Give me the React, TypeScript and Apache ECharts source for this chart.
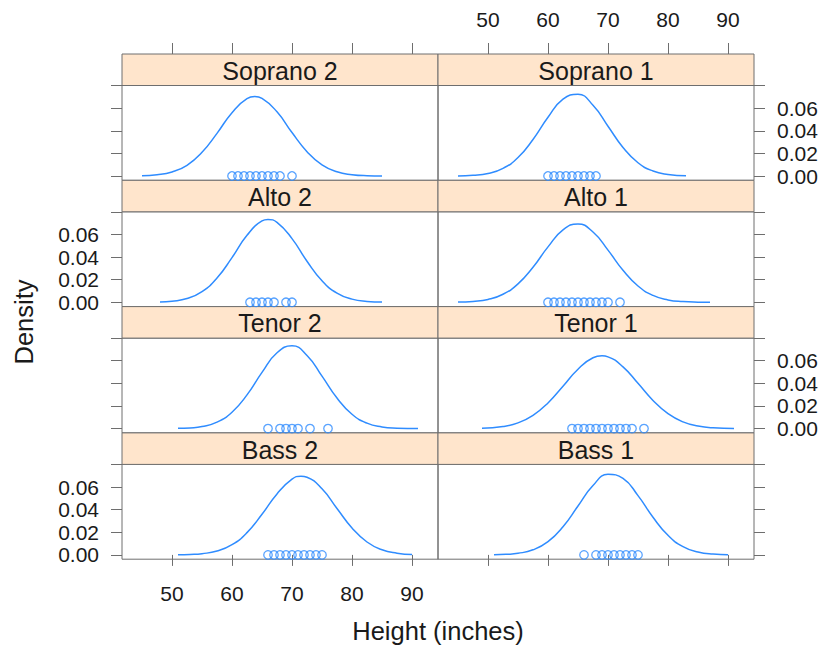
import React, { useEffect, useRef } from "react";
import * as echarts from "echarts";

// ---- Data ----
const panelNames = ["Soprano 2", "Soprano 1", "Alto 2", "Alto 1", "Tenor 2", "Tenor 1", "Bass 2", "Bass 1"];
const xTicks = [50, 60, 70, 80, 90];
const yTicks = [0, 0.02, 0.04, 0.06, 0.08];
const yLabelTicks = [0, 0.02, 0.04, 0.06];

// observed heights (distinct values shown as points)
const soprano2Heights = [60, 61, 62, 63, 64, 65, 66, 67, 68, 70];
const soprano1Heights = [60, 61, 62, 63, 64, 65, 66, 67, 68];
const alto2Heights = [63, 64, 65, 66, 67, 69, 70];
const alto1Heights = [60, 61, 62, 63, 64, 65, 66, 67, 68, 69, 70, 72];
const tenor2Heights = [66, 68, 69, 70, 71, 73, 76];
const tenor1Heights = [64, 65, 66, 67, 68, 69, 70, 71, 72, 73, 74, 76];
const bass2Heights = [66, 67, 68, 69, 70, 71, 72, 73, 74, 75];
const bass1Heights = [66, 68, 69, 70, 71, 72, 73, 74, 75];

// density curves: [height, density]
const soprano2Curve = [
  [45, 0.0003], [47.5, 0.0011], [50, 0.0036], [52.5, 0.0095], [55, 0.0209], [57.5, 0.0377],
  [60, 0.056], [62.5, 0.0684], [63.8, 0.0702], [65, 0.0686], [67.5, 0.0567], [70, 0.0384],
  [72.5, 0.0215], [75, 0.0098], [77.5, 0.0037], [80, 0.0012], [82.5, 0.0003], [85, 0.0001],
];
const soprano1Curve = [
  [45, 0.0001], [47.5, 0.0006], [50, 0.0022], [52.5, 0.0067], [55, 0.0163], [57.5, 0.0323],
  [60, 0.0519], [62.5, 0.0679], [65, 0.0722], [67.5, 0.0625], [70, 0.044], [72.5, 0.0252],
  [75, 0.0117], [77.5, 0.0044], [80, 0.0014], [83, 0.0003],
];
const alto2Curve = [
  [48, 0.0003], [50, 0.001], [52.5, 0.0033], [55, 0.0094], [57.5, 0.0214], [60, 0.0395],
  [62.5, 0.0592], [65, 0.0719], [66, 0.0732], [67.5, 0.0707], [70, 0.0563], [72.5, 0.0363],
  [75, 0.019], [77.5, 0.0081], [80, 0.0028], [82.5, 0.0008], [85, 0.0002],
];
const alto1Curve = [
  [45, 0.0002], [47.5, 0.0008], [50, 0.0025], [52.5, 0.0071], [55, 0.0163], [57.5, 0.031],
  [60, 0.049], [62.5, 0.064], [65, 0.0693], [67.5, 0.0621], [70, 0.0461], [72.5, 0.0283],
  [75, 0.0144], [77.5, 0.0061], [80, 0.0021], [82.5, 0.0006], [85, 0.0001], [87, 0.0],
];
const tenor2Curve = [
  [51, 0.0002], [53, 0.0006], [55, 0.0018], [57.5, 0.0057], [60, 0.0145], [62.5, 0.0298],
  [65, 0.0497], [67.5, 0.067], [70, 0.0732], [72.5, 0.0647], [75, 0.0464], [77.5, 0.027],
  [80, 0.0127], [82.5, 0.0048], [85, 0.0015], [87.5, 0.0004], [91, 0.0],
];
const tenor1Curve = [
  [49, 0.0004], [52.5, 0.0019], [55, 0.0051], [57.5, 0.0117], [60, 0.0227], [62.5, 0.0375],
  [65, 0.0525], [67.5, 0.0626], [69, 0.0643], [70, 0.0634], [72.5, 0.0546], [75, 0.04],
  [77.5, 0.0249], [80, 0.0132], [82.5, 0.0059], [85, 0.0023], [87.5, 0.0007], [91, 0.0001],
];
const bass2Curve = [
  [51, 0.0001], [53, 0.0004], [55, 0.0011], [57.5, 0.0034], [60, 0.009], [62.5, 0.0197],
  [65, 0.0359], [67.5, 0.0539], [70, 0.0669], [71.5, 0.0696], [72.5, 0.0687], [75, 0.0584],
  [77.5, 0.041], [80, 0.0238], [82.5, 0.0114], [85, 0.0045], [87.5, 0.0015], [90, 0.0004],
];
const bass1Curve = [
  [51, 0.0001], [53, 0.0005], [55, 0.0014], [57.5, 0.0045], [60, 0.0117], [62.5, 0.0249],
  [65, 0.0432], [67.5, 0.0613], [70, 0.0712], [72.5, 0.0676], [75, 0.0524], [77.5, 0.0333],
  [80, 0.0173], [82.5, 0.0073], [85, 0.0025], [87.5, 0.0007], [90, 0.0002],
];

const panelHeights = [soprano2Heights, soprano1Heights, alto2Heights, alto1Heights, tenor2Heights, tenor1Heights, bass2Heights, bass1Heights];
const panelCurves = [soprano2Curve, soprano1Curve, alto2Curve, alto1Curve, tenor2Curve, tenor1Curve, bass2Curve, bass1Curve];

// ---- Layout / style ----
const FONT = "'Liberation Sans', Arial, Helvetica, sans-serif";
const LINE = "#6e6e6e";
const TEXT = "#1a1a1a";
const BLUE = "#2f8cff";
const LEFT0 = 122;
const COLW = 316;
const TOP0 = 54;
const ROWH = 126.3;
const STRIPH = 31.5;
const PANELH = 94.8;
const XMIN = 41.667;
const XMAX = 94.333;
const YMIN = -0.0038;
const YMAX = 0.08;

export default function App() {
  const ref = useRef<HTMLDivElement>(null);
  useEffect(() => {
    if (!ref.current) return;
    const chart = echarts.init(ref.current, undefined, { renderer: "svg" });
    const grids: any[] = [];
    const xAxes: any[] = [];
    const yAxes: any[] = [];
    const series: any[] = [];
    const graphics: any[] = [];
    panelNames.forEach((name, i) => {
      const r = Math.floor(i / 2);
      const c = i % 2;
      const left = LEFT0 + c * COLW;
      const stripTop = TOP0 + r * ROWH;
      grids.push({
        left, top: stripTop + STRIPH, width: COLW, height: PANELH,
        show: true, borderColor: LINE, borderWidth: 1, backgroundColor: "transparent",
      });
      xAxes.push({
        gridIndex: i, type: "value", min: XMIN, max: XMAX,
        show: r === 3,
        position: "bottom",
        axisLine: { show: false },
        splitLine: { show: false },
        axisTick: { show: true, length: 11, customValues: xTicks, lineStyle: { color: LINE, width: 1 } },
        axisLabel: {
          show: c === 0,
          customValues: xTicks, margin: 24, fontSize: 21, color: TEXT, fontFamily: FONT,
        },
      });
      yAxes.push({
        gridIndex: i, type: "value", min: YMIN, max: YMAX,
        position: c === 0 ? "left" : "right",
        axisLine: { show: false },
        splitLine: { show: false },
        axisTick: { show: true, length: 11, customValues: yTicks, lineStyle: { color: LINE, width: 1 } },
        axisLabel: {
          show: (c === 0 && (r === 1 || r === 3)) || (c === 1 && (r === 0 || r === 2)),
          customValues: yLabelTicks, margin: 23, fontSize: 21, color: TEXT, fontFamily: FONT,
          formatter: (v: number) => v.toFixed(2),
        },
      });
      series.push({
        type: "line", xAxisIndex: i, yAxisIndex: i, data: panelCurves[i],
        smooth: true, showSymbol: false, symbol: "none",
        lineStyle: { color: BLUE, width: 1.5 }, silent: true,
      });
      series.push({
        type: "scatter", xAxisIndex: i, yAxisIndex: i,
        data: panelHeights[i].map((h) => [h, 0]),
        symbol: "circle", symbolSize: 8.5,
        itemStyle: { color: "rgba(255,255,255,0)", borderColor: BLUE, borderWidth: 1.3 },
        silent: true,
      });
      graphics.push({
        type: "rect",
        shape: { x: left, y: stripTop, width: COLW, height: STRIPH },
        style: { fill: "#ffe5cc", stroke: LINE, lineWidth: 1 },
        silent: true,
      });
      graphics.push({
        type: "text",
        x: left + COLW / 2, y: stripTop + STRIPH / 2 + 1,
        style: { text: name, fontSize: 25, fontFamily: FONT, fill: TEXT, textAlign: "center", textVerticalAlign: "middle" },
        silent: true,
      });
    });
    // top axes: invisible grids ending at the top edge of the first strip row;
    // ticks and labels drawn inward (upward) from their bottom edge
    [0, 1].forEach((c) => {
      const gi = grids.length;
      grids.push({ left: LEFT0 + c * COLW, top: 0, width: COLW, height: TOP0, show: false });
      xAxes.push({
        gridIndex: gi, type: "value", min: XMIN, max: XMAX, position: "bottom",
        axisLine: { show: false },
        splitLine: { show: false },
        axisTick: { show: true, inside: true, length: 11, customValues: xTicks, lineStyle: { color: LINE, width: 1 } },
        axisLabel: {
          show: c === 1, inside: true,
          customValues: xTicks, margin: 24, fontSize: 21, color: TEXT, fontFamily: FONT,
        },
      });
      yAxes.push({ gridIndex: gi, type: "value", min: 0, max: 1, show: false });
    });
    graphics.push({
      type: "text", x: LEFT0 + COLW, y: 631,
      style: { text: "Height (inches)", fontSize: 25.5, fontFamily: FONT, fill: TEXT, textAlign: "center", textVerticalAlign: "middle" },
    });
    graphics.push({
      type: "text", x: 24, y: 322, rotation: Math.PI / 2,
      style: { text: "Density", fontSize: 25.5, fontFamily: FONT, fill: TEXT, textAlign: "center", textVerticalAlign: "middle" },
    });
    chart.setOption({
      animation: false,
      backgroundColor: "#ffffff",
      grid: grids,
      xAxis: xAxes,
      yAxis: yAxes,
      series,
      graphic: graphics,
    });
    return () => chart.dispose();
  }, []);
  return <div ref={ref} style={{ position: "fixed", left: 0, top: 0, width: 823, height: 646 }} />;
}
